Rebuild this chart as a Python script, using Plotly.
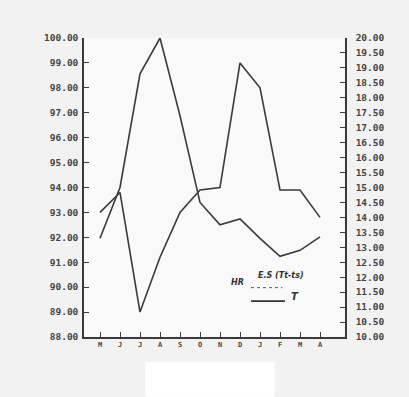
import plotly.graph_objects as go

months = ["M", "J", "J", "A", "S", "O", "N", "D", "J", "F", "M", "A"]
hr_values = [93.0, 93.8, 89.0, 91.2, 93.0, 93.9, 94.0, 99.0, 98.0, 93.9, 93.9, 92.8]
t_values = [13.3, 15.0, 18.8, 20.0, 17.4, 14.5, 13.75, 13.95, 13.3, 12.7, 12.9, 13.35]
hr_ticks = [88 + i for i in range(13)]
t_ticks = [10 + 0.5 * i for i in range(21)]

x = list(range(len(months)))
ink = "#3a3a3a"

fig = go.Figure()
fig.add_trace(go.Scatter(x=x, y=hr_values, mode="lines", name="HR",
                         line=dict(color=ink, width=1.6), yaxis="y"))
fig.add_trace(go.Scatter(x=x, y=t_values, mode="lines", name="T",
                         line=dict(color=ink, width=1.6), yaxis="y2"))

tickfont = dict(family="DejaVu Sans Mono", size=9.5, color="#444", weight="bold")

fig.update_layout(
    width=409, height=397,
    margin=dict(l=84, r=64, t=38, b=60),
    paper_bgcolor="#f2f2f2",
    plot_bgcolor="#f9f9f9",
    showlegend=False,
    xaxis=dict(range=[-0.8, 12.25], tickvals=x, ticktext=months,
               ticks="inside", ticklen=5, tickcolor=ink, showgrid=False,
               zeroline=False, showline=True, linecolor=ink, linewidth=1.5,
               tickfont=dict(family="DejaVu Sans Mono", size=7, color="#444", weight="bold")),
    yaxis=dict(range=[88, 100], tickvals=hr_ticks,
               ticktext=[f"{v:.2f}" for v in hr_ticks],
               ticks="inside", ticklen=5, tickcolor=ink, showgrid=False,
               zeroline=False, showline=True, linecolor=ink, linewidth=1.5,
               tickfont=tickfont, ticklabelstandoff=2),
    yaxis2=dict(range=[10, 20], tickvals=t_ticks,
                ticktext=[f"{v:.2f}" for v in t_ticks],
                overlaying="y", side="right",
                ticks="inside", ticklen=5, tickcolor=ink, showgrid=False,
                zeroline=False, showline=True, linecolor=ink, linewidth=1.5,
                tickfont=tickfont, ticklabelstandoff=7),
)

# hand-drawn style legend
fig.add_annotation(xref="paper", yref="paper", x=0.66, y=0.185, text="<i>E.S (Tt-ts)</i>",
                   showarrow=False, xanchor="left",
                   font=dict(family="DejaVu Sans", size=8, color="#333", weight="bold"))
fig.add_annotation(xref="paper", yref="paper", x=0.555, y=0.16, text="<i>HR</i>",
                   showarrow=False, xanchor="left",
                   font=dict(family="DejaVu Sans", size=8, color="#333", weight="bold"))
fig.add_annotation(xref="paper", yref="paper", x=0.785, y=0.11, text="<i>T</i>",
                   showarrow=False, xanchor="left",
                   font=dict(family="DejaVu Sans", size=10, color="#333", weight="bold"))
fig.add_shape(type="line", xref="paper", yref="paper", x0=0.64, x1=0.76, y0=0.165, y1=0.165,
              line=dict(color="#555", width=1, dash="dot"))
fig.add_shape(type="line", xref="paper", yref="paper", x0=0.64, x1=0.77, y0=0.12, y1=0.12,
              line=dict(color="#333", width=1.8))
# white scan patch at the bottom
fig.add_shape(type="rect", xref="paper", yref="paper", x0=0.235, x1=0.73, y0=-0.2, y1=-0.084,
              line=dict(width=0), fillcolor="white", layer="below")

fig.write_html("out.html", config={"displayModeBar": False},
               post_script="document.body.style.margin='0';")
